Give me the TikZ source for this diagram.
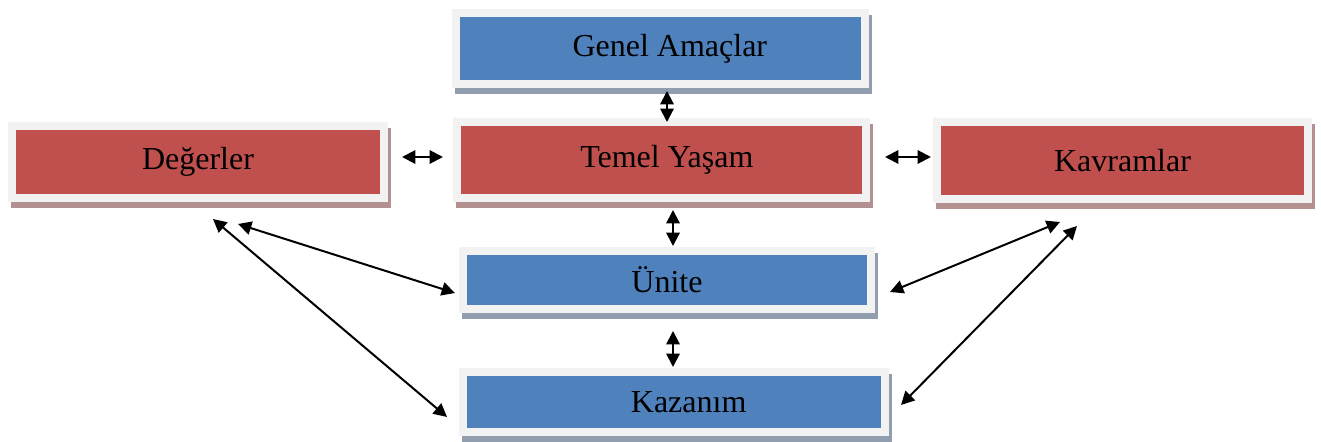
\documentclass[tikz,border=0pt]{standalone}
\usepackage{fontspec}
\setmainfont{Liberation Serif}
\usetikzlibrary{arrows.meta,calc}
\definecolor{boxblue}{HTML}{4F81BD}
\definecolor{boxred}{HTML}{C0504D}
\definecolor{framegray}{HTML}{F2F2F2}
\definecolor{shadeblue}{HTML}{919EAF}
\definecolor{shadered}{HTML}{B39190}
\tikzset{
    box/.style={draw=framegray, line width=6pt, inner sep=0pt,
        font=\fontsize{24}{28}\selectfont},
    bluebox/.style={box, fill=boxblue,
        preaction={draw=shadeblue, fill=shadeblue, line width=6pt,
            transform canvas={xshift=2.25pt, yshift=-4.5pt}}},
    redbox/.style={box, fill=boxred,
        preaction={draw=shadered, fill=shadered, line width=6pt,
            transform canvas={xshift=2.25pt, yshift=-4.5pt}}},
    link/.style={line width=1.5pt, {Triangle[length=10pt,width=10pt]}-{Triangle[length=10pt,width=10pt]}}
}
\begin{document}
\begin{tikzpicture}[x=0.75pt, y=-0.75pt]
    \useasboundingbox (0,0) rectangle (1321,442);
    \node[bluebox, minimum width=306.75pt, minimum height=53.25pt] (genel) at (660.5,48.5) {\hspace{14pt}Genel Amaçlar};
    \node[redbox, minimum width=306.75pt, minimum height=57pt] (temel) at (661.5,160) {\hspace{8pt}Temel Yaşam};
    \node[redbox, minimum width=279pt, minimum height=54pt] (deger) at (198,162) {Değerler\hspace{10pt}};
    \node[redbox, minimum width=278.25pt, minimum height=57.75pt] (kavram) at (1122.5,160.5) {Kavramlar};
    \node[bluebox, minimum width=306pt, minimum height=43.5pt] (unite) at (667,280) {Ünite\hspace{8pt}};
    \node[bluebox, minimum width=316.5pt, minimum height=45pt] (kazanim) at (674,402) {\hspace{22pt}Kazanım};
    \draw[link] ($(genel.south)+(6.5,3)$) -- ($(temel.north)+(5.5,4)$);
    \draw[link] ($(deger.east)+(14,-5)$) -- ($(temel.west)+(-10,-3)$);
    \draw[link] ($(temel.east)+(15,-3)$) -- ($(kavram.west)+(-2,-3.5)$);
    \draw[link] ($(temel.south)+(11.5,8)$) -- ($(unite.north)+(6,-1)$);
    \draw[link] ($(unite.south)+(6,18)$) -- ($(kazanim.north)+(-1,-1)$);
    \draw[link] ($(deger.south)+(40,22)$) -- ($(unite.west)+(-4,13)$);
    \draw[link] ($(deger.south)+(15,17)$) -- ($(kazanim.west)+(-12,15)$);
    \draw[link] ($(kavram.south)+(-62.5,19)$) -- ($(unite.east)+(15,12)$);
    \draw[link] ($(kavram.south)+(-45.5,23)$) -- ($(kazanim.east)+(12,3)$);
\end{tikzpicture}
\end{document}
